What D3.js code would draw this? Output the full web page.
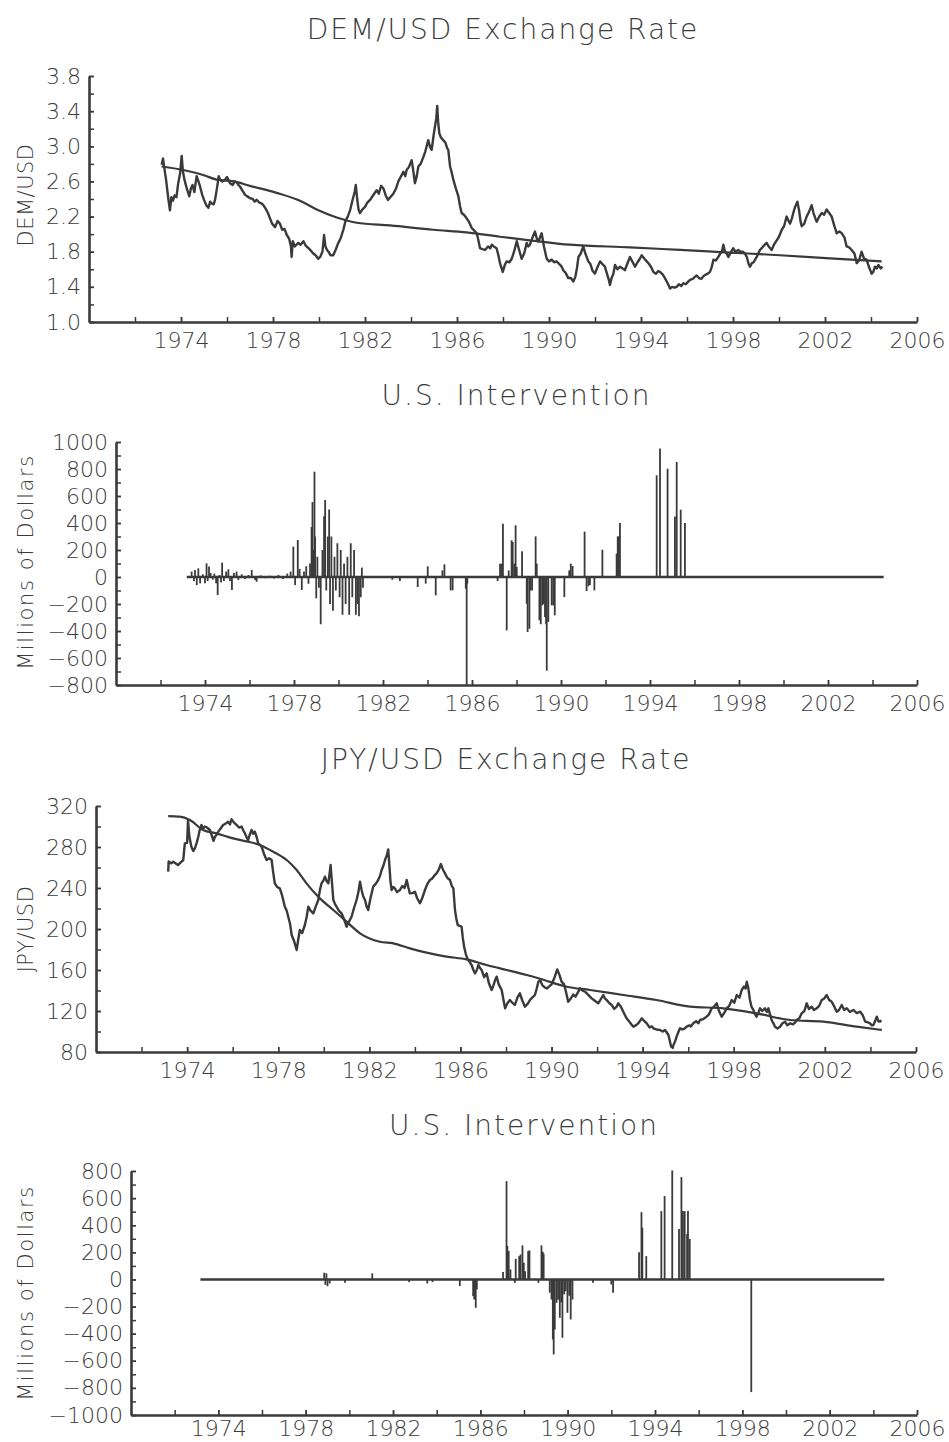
<!DOCTYPE html>
<html>
<head>
<meta charset="utf-8">
<script src="https://cdn.jsdelivr.net/npm/d3@7"></script>
<style>
  html, body { margin: 0; padding: 0; background: #fff; }
  svg text { font-family: "DejaVu Sans", "Liberation Sans", sans-serif; font-weight: 200; fill: #3c3c3c; }
</style>
</head>
<body>
<svg id="chart" width="949" height="1442"></svg>
<script>
// ---------------- DATA ----------------
const yearTicks = [1974, 1978, 1982, 1986, 1990, 1994, 1998, 2002, 2006];
const yearMinor = [1972, 1974, 1976, 1978, 1980, 1982, 1984, 1986, 1988, 1990, 1992, 1994, 1996, 1998, 2000, 2002, 2004, 2006];

const demTicks = [1.0, 1.4, 1.8, 2.2, 2.6, 3.0, 3.4, 3.8];
const demInterTicks = [-800, -600, -400, -200, 0, 200, 400, 600, 800, 1000];
const jpyTicks = [80, 120, 160, 200, 240, 280, 320];
const jpyInterTicks = [-1000, -800, -600, -400, -200, 0, 200, 400, 600, 800];

// DEM/USD exchange rate (decimal year, rate)
const demT = [1973.16,1973.22,1973.26,1973.35,1973.45,1973.52,1973.58,1973.65,1973.72,1973.8,1973.88,1973.96,1974.03,1974.08,1974.15,1974.25,1974.36,1974.43,1974.5,1974.58,1974.68,1974.76,1974.83,1974.92,1975.0,1975.1,1975.19,1975.27,1975.33,1975.42,1975.48,1975.58,1975.64,1975.7,1975.8,1975.91,1976.0,1976.13,1976.25,1976.33,1976.42,1976.5,1976.57,1976.66,1976.78,1976.88,1977.0,1977.12,1977.2,1977.29,1977.4,1977.5,1977.58,1977.68,1977.78,1977.87,1977.96,1978.09,1978.2,1978.3,1978.4,1978.5,1978.6,1978.7,1978.78,1978.81,1978.86,1978.95,1979.02,1979.1,1979.2,1979.32,1979.42,1979.54,1979.62,1979.75,1979.85,1979.97,1980.05,1980.15,1980.22,1980.28,1980.35,1980.41,1980.5,1980.62,1980.72,1980.84,1980.95,1981.06,1981.15,1981.25,1981.35,1981.45,1981.55,1981.6,1981.66,1981.72,1981.78,1981.88,1982.0,1982.1,1982.22,1982.35,1982.45,1982.51,1982.6,1982.7,1982.8,1982.9,1983.0,1983.1,1983.23,1983.35,1983.45,1983.55,1983.67,1983.75,1983.81,1983.9,1984.03,1984.1,1984.17,1984.25,1984.32,1984.42,1984.54,1984.62,1984.7,1984.75,1984.83,1984.9,1984.98,1985.04,1985.1,1985.14,1985.18,1985.23,1985.3,1985.4,1985.5,1985.57,1985.62,1985.7,1985.77,1985.84,1985.95,1986.06,1986.13,1986.2,1986.3,1986.42,1986.52,1986.64,1986.75,1986.86,1986.93,1987.0,1987.1,1987.22,1987.35,1987.45,1987.51,1987.6,1987.72,1987.8,1987.87,1987.94,1987.99,1988.08,1988.16,1988.28,1988.38,1988.48,1988.6,1988.68,1988.81,1988.92,1989.03,1989.1,1989.17,1989.28,1989.39,1989.47,1989.54,1989.62,1989.68,1989.78,1989.9,1990.0,1990.12,1990.22,1990.33,1990.45,1990.55,1990.62,1990.72,1990.84,1990.95,1991.06,1991.15,1991.22,1991.28,1991.38,1991.49,1991.58,1991.71,1991.8,1991.9,1992.0,1992.1,1992.22,1992.32,1992.43,1992.52,1992.6,1992.65,1992.72,1992.8,1992.87,1992.98,1993.09,1993.2,1993.3,1993.4,1993.52,1993.62,1993.74,1993.85,1993.95,1994.03,1994.15,1994.25,1994.35,1994.45,1994.54,1994.65,1994.75,1994.83,1994.95,1995.04,1995.14,1995.2,1995.26,1995.35,1995.45,1995.55,1995.65,1995.75,1995.84,1995.95,1996.05,1996.13,1996.25,1996.33,1996.42,1996.52,1996.62,1996.71,1996.82,1996.9,1997.0,1997.08,1997.15,1997.25,1997.36,1997.45,1997.52,1997.58,1997.65,1997.72,1997.8,1997.9,1998.01,1998.1,1998.23,1998.32,1998.42,1998.52,1998.6,1998.68,1998.74,1998.82,1998.9,1998.96,1999.05,1999.17,1999.28,1999.38,1999.46,1999.55,1999.62,1999.68,1999.78,1999.9,2000.0,2000.12,2000.22,2000.33,2000.42,2000.48,2000.56,2000.63,2000.7,2000.8,2000.88,2000.94,2000.99,2001.1,2001.2,2001.3,2001.42,2001.5,2001.58,2001.64,2001.75,2001.86,2001.96,2002.07,2002.18,2002.29,2002.4,2002.51,2002.62,2002.73,2002.85,2002.94,2003.05,2003.16,2003.28,2003.38,2003.48,2003.59,2003.7,2003.81,2003.92,2004.03,2004.1,2004.17,2004.25,2004.32,2004.42,2004.5];
const demV = [2.79,2.86,2.78,2.62,2.40,2.27,2.42,2.38,2.44,2.42,2.58,2.69,2.89,2.72,2.62,2.52,2.43,2.52,2.56,2.48,2.66,2.60,2.54,2.45,2.39,2.33,2.30,2.37,2.35,2.34,2.39,2.55,2.66,2.62,2.60,2.62,2.65,2.58,2.56,2.60,2.59,2.56,2.54,2.50,2.45,2.43,2.41,2.40,2.37,2.39,2.36,2.35,2.33,2.29,2.24,2.18,2.12,2.08,2.15,2.12,2.05,2.06,1.99,1.95,1.86,1.74,1.92,1.86,1.88,1.90,1.88,1.92,1.87,1.84,1.82,1.78,1.76,1.72,1.74,1.80,1.99,1.86,1.82,1.80,1.76,1.76,1.82,1.90,1.96,2.05,2.15,2.20,2.27,2.38,2.48,2.56,2.40,2.28,2.24,2.28,2.31,2.36,2.39,2.44,2.48,2.50,2.46,2.55,2.52,2.44,2.39,2.42,2.46,2.52,2.60,2.65,2.71,2.66,2.73,2.76,2.84,2.72,2.58,2.66,2.77,2.80,2.88,2.94,3.02,3.07,2.99,2.96,3.12,3.22,3.32,3.46,3.28,3.15,3.10,3.07,3.04,2.98,2.96,2.77,2.70,2.62,2.52,2.43,2.32,2.24,2.22,2.18,2.14,2.07,2.04,2.01,1.93,1.84,1.83,1.82,1.86,1.84,1.88,1.86,1.84,1.76,1.67,1.61,1.57,1.65,1.69,1.68,1.72,1.80,1.92,1.84,1.72,1.78,1.90,1.86,1.88,1.96,2.03,1.95,1.915,1.97,2.01,1.86,1.72,1.69,1.71,1.68,1.69,1.66,1.63,1.59,1.56,1.50,1.50,1.46,1.52,1.62,1.74,1.78,1.86,1.78,1.69,1.66,1.58,1.55,1.62,1.69,1.66,1.63,1.55,1.48,1.42,1.50,1.55,1.65,1.60,1.63,1.61,1.59,1.66,1.74,1.69,1.63,1.68,1.72,1.76,1.72,1.69,1.66,1.62,1.57,1.55,1.58,1.57,1.54,1.50,1.45,1.42,1.38,1.40,1.39,1.40,1.43,1.41,1.44,1.43,1.46,1.48,1.49,1.51,1.53,1.50,1.49,1.52,1.54,1.55,1.57,1.63,1.71,1.70,1.74,1.78,1.80,1.88,1.80,1.78,1.74,1.79,1.84,1.80,1.82,1.80,1.80,1.78,1.74,1.66,1.63,1.67,1.68,1.71,1.75,1.82,1.85,1.88,1.90,1.86,1.84,1.82,1.88,1.93,1.97,2.05,2.09,2.20,2.15,2.12,2.18,2.25,2.31,2.37,2.26,2.14,2.09,2.12,2.20,2.25,2.33,2.24,2.18,2.14,2.20,2.24,2.22,2.28,2.24,2.20,2.10,2.01,2.03,2.01,1.96,1.86,1.85,1.82,1.78,1.67,1.70,1.80,1.72,1.71,1.62,1.55,1.57,1.63,1.61,1.65,1.61,1.63];

// DEM/USD trend line
const demTrendT = [1973.16,1974.1,1975.0,1975.55,1976.3,1977.0,1978.16,1979.17,1979.9,1980.77,1981.64,1983.09,1984.97,1986.42,1987.87,1989.17,1990.91,1993.52,1995.7,1997.87,2000.04,2002.22,2004.46];
const demTrendV = [2.77,2.73,2.67,2.62,2.60,2.55,2.47,2.38,2.28,2.19,2.13,2.10,2.05,2.02,1.97,1.93,1.88,1.85,1.82,1.79,1.76,1.725,1.69];

// U.S. intervention, DEM (decimal year, millions of dollars)
const demIntT = [1973.4,1973.5,1973.55,1973.63,1973.7,1973.78,1973.9,1974.0,1974.07,1974.12,1974.18,1974.25,1974.35,1974.42,1974.5,1974.57,1974.65,1974.72,1974.77,1974.85,1974.95,1975.05,1975.12,1975.21,1975.3,1975.42,1975.5,1975.65,1975.8,1975.95,1976.1,1976.25,1976.32,1976.5,1976.7,1976.9,1977.1,1977.3,1977.5,1977.7,1977.85,1977.97,1978.05,1978.17,1978.25,1978.35,1978.45,1978.55,1978.65,1978.72,1978.79,1978.83,1978.88,1978.92,1978.95,1979.0,1979.05,1979.12,1979.2,1979.28,1979.35,1979.4,1979.45,1979.52,1979.58,1979.62,1979.68,1979.75,1979.82,1979.88,1979.95,1980.05,1980.1,1980.18,1980.25,1980.32,1980.4,1980.48,1980.55,1980.62,1980.7,1980.78,1980.85,1980.92,1981.0,1981.05,1981.1,1982.42,1982.76,1983.56,1983.92,1984.01,1984.37,1984.67,1984.76,1985.04,1985.13,1985.72,1985.76,1985.79,1987.15,1987.26,1987.33,1987.39,1987.56,1987.65,1987.78,1987.83,1987.9,1987.96,1988.01,1988.25,1988.46,1988.5,1988.58,1988.63,1988.7,1988.86,1988.91,1989.03,1989.09,1989.16,1989.22,1989.28,1989.33,1989.36,1989.43,1989.58,1989.65,1989.72,1990.15,1990.37,1990.44,1990.52,1991.06,1991.15,1991.23,1991.3,1991.5,1991.86,1992.5,1992.55,1992.6,1992.65,1994.3,1994.45,1994.79,1995.12,1995.2,1995.38,1995.57];
const demIntV = [40,-30,52,-60,64,-47,20,-47,101,-30,77,30,-20,25,-47,-133,15,-40,106,-30,40,57,-30,-96,30,40,-22,20,-15,15,52,-22,-35,12,-10,10,-12,15,-15,25,40,225,-60,274,60,-96,40,80,-50,100,370,555,200,780,300,-158,150,-80,-350,200,450,570,-100,300,500,-200,300,-250,150,-100,250,-150,200,-280,100,-200,150,-280,250,-150,200,-280,-200,-290,-150,70,-80,-20,-30,-74,-49,79,-136,49,94,-99,-99,-86,-800,-49,-30,99,99,395,-395,49,272,259,99,383,74,190,-198,-407,-383,-100,-100,301,99,-321,-350,-210,-200,-296,-350,-694,-333,-210,-210,-284,-148,49,99,82,336,-104,-69,-60,-99,202,173,301,301,400,753,951,802,449,852,499,400];

// JPY/USD exchange rate
const jpyT = [1973.17,1973.19,1973.3,1973.39,1973.5,1973.6,1973.72,1973.83,1973.9,1974.0,1974.04,1974.1,1974.19,1974.27,1974.34,1974.42,1974.49,1974.56,1974.63,1974.7,1974.78,1974.88,1975.0,1975.1,1975.16,1975.22,1975.3,1975.37,1975.47,1975.58,1975.7,1975.8,1975.88,1975.95,1976.05,1976.17,1976.28,1976.39,1976.47,1976.54,1976.62,1976.68,1976.75,1976.83,1976.9,1976.97,1977.05,1977.12,1977.2,1977.27,1977.38,1977.49,1977.6,1977.71,1977.78,1977.85,1977.95,1978.07,1978.18,1978.29,1978.37,1978.44,1978.52,1978.59,1978.7,1978.81,1978.88,1978.95,1979.05,1979.17,1979.25,1979.32,1979.42,1979.54,1979.65,1979.76,1979.83,1979.9,1980.0,1980.05,1980.12,1980.2,1980.3,1980.36,1980.42,1980.5,1980.56,1980.66,1980.78,1980.9,1981.0,1981.1,1981.22,1981.32,1981.44,1981.52,1981.59,1981.66,1981.73,1981.81,1981.88,1981.95,1982.05,1982.17,1982.28,1982.39,1982.47,1982.54,1982.62,1982.69,1982.77,1982.83,1982.88,1982.93,1982.98,1983.05,1983.12,1983.22,1983.34,1983.45,1983.55,1983.64,1983.72,1983.78,1983.9,1984.0,1984.1,1984.22,1984.32,1984.44,1984.55,1984.66,1984.75,1984.85,1984.95,1985.05,1985.14,1985.23,1985.32,1985.42,1985.54,1985.62,1985.69,1985.76,1985.82,1985.88,1985.96,1986.05,1986.1,1986.16,1986.23,1986.3,1986.4,1986.49,1986.57,1986.64,1986.72,1986.79,1986.86,1986.93,1987.04,1987.15,1987.25,1987.37,1987.45,1987.52,1987.59,1987.68,1987.75,1987.81,1987.88,1987.96,1988.05,1988.17,1988.28,1988.39,1988.5,1988.61,1988.72,1988.83,1988.95,1989.05,1989.15,1989.27,1989.35,1989.42,1989.5,1989.6,1989.7,1989.8,1989.9,1990.0,1990.12,1990.25,1990.35,1990.44,1990.55,1990.62,1990.73,1990.84,1990.95,1991.05,1991.15,1991.25,1991.35,1991.47,1991.6,1991.76,1991.9,1992.05,1992.15,1992.27,1992.35,1992.42,1992.52,1992.64,1992.75,1992.85,1992.93,1993.05,1993.15,1993.22,1993.3,1993.4,1993.5,1993.59,1993.7,1993.81,1993.96,1994.08,1994.18,1994.3,1994.4,1994.47,1994.6,1994.76,1994.88,1994.98,1995.06,1995.13,1995.2,1995.25,1995.32,1995.35,1995.42,1995.49,1995.56,1995.64,1995.75,1995.85,1995.93,1996.05,1996.12,1996.22,1996.35,1996.45,1996.52,1996.65,1996.81,1996.92,1997.03,1997.12,1997.25,1997.35,1997.47,1997.58,1997.69,1997.8,1997.91,1998.02,1998.13,1998.25,1998.35,1998.45,1998.52,1998.57,1998.64,1998.71,1998.78,1998.86,1998.93,1999.0,1999.08,1999.15,1999.25,1999.37,1999.45,1999.52,1999.6,1999.66,1999.74,1999.81,1999.92,2000.03,2000.14,2000.25,2000.35,2000.47,2000.6,2000.7,2000.76,2000.88,2000.98,2001.1,2001.2,2001.3,2001.42,2001.52,2001.64,2001.75,2001.86,2001.96,2002.08,2002.18,2002.3,2002.42,2002.52,2002.62,2002.74,2002.85,2002.96,2003.1,2003.25,2003.4,2003.55,2003.66,2003.77,2003.88,2003.98,2004.05,2004.13,2004.2,2004.28,2004.35,2004.42,2004.48];
const jpyV = [256,266,264,265.7,264,262.4,265,267.3,283.6,284,306,290,280,276,278.7,284,290,297,301.5,298,300,299,296.6,290,286,290,292,295,298,301.5,303,304.7,302,307,304,301.5,299,300,296,293.3,289,286.8,292,296.6,293,295,290,283.6,282,280.3,273,267.3,269,267.3,255,244.5,241,239.7,232,221.8,218,212,205,194.1,188,179.5,190,199,196,203.9,212,221.8,218,215.3,222,228.3,238,244.5,248,251,247,244.5,262.4,245,228.3,224,221.8,218,215.3,209,202.3,207,212,220,228.3,236,246.2,238,232,228.3,222,218.5,230,241.3,244,247.8,252,257.6,262,267.3,272,277.7,262,246,238,241,239.7,236,238,242,240,247.8,240,234.8,235,236.4,230,225.1,230,238,244,247.8,249,252,254.3,258,263.4,258,254.3,250,247.8,242,239.7,218.5,210,203.9,203,202.3,192,182.8,176,171.4,168,164.9,160,156.7,160,164.9,162,160,153,156.7,147,140.5,145,150,153.5,146,143,140.5,132,122.6,127,130.7,128,125.9,133,137.2,130,124.2,127,130.7,133,135.6,142,148.6,150,145,143,142,144,146,152,160.6,155,148.6,146,140,129,132,136,134,138,142.1,140,138.8,136,132.3,130,127.5,131,135.6,132,130.7,128,125.9,122,124,127.5,124,119.3,116,112.8,110,107,104.7,106,108,112.8,110,108,104,105,103.1,102,101.5,100,101.5,99,96.6,90,85.2,84,86.8,90,95,99,103.1,102,103,104.7,106,105,108,110,108,111.2,112,114.5,117,122.6,124,127.5,120,114.5,118,122.6,125,130.7,128,135.6,133,140.5,144,142,148.6,142.1,130.7,124,121,117,114.5,118,122.6,120,122.6,119,122.6,116,111.2,108,104.7,103,104.7,108,109.6,106,108,107,109,111.2,113,117.7,120,127.5,122,124.2,121,122.6,125,130.7,132,135.6,131,129,124,119.3,121,125.9,121,122.6,119,121,118,119.3,116,109.6,109,108,106,106.3,110,114.5,110,109.6,111];

// JPY/USD trend line
const jpyTrendT = [1973.17,1973.68,1974.12,1974.7,1975.29,1976.02,1976.68,1977.19,1977.78,1978.37,1978.81,1979.24,1979.83,1980.42,1981.0,1981.59,1982.46,1983.05,1983.78,1984.51,1985.39,1986.27,1987.15,1988.03,1988.91,1989.49,1990.66,1991.69,1993.15,1994.61,1996.08,1997.54,1999.0,2000.47,2001.93,2003.4,2004.5];
const jpyTrendV = [310.2,309.6,306.3,296.6,293.3,288.4,285.2,282,275.4,267.3,257.6,244.5,229.9,218.5,207.2,195.8,187.6,186,181.1,176.9,173,170.4,164.9,160,155.1,151.5,143.7,140.5,135.6,130.7,124.2,122.6,117.7,111.2,109.6,104.7,101.5];

// U.S. intervention, JPY
const jpyIntT = [1978.85,1978.9,1978.95,1979.0,1979.1,1979.8,1981.05,1982.74,1983.57,1983.81,1985.06,1985.67,1985.72,1985.79,1985.84,1987.04,1987.2,1987.24,1987.3,1987.38,1987.58,1987.62,1987.78,1987.84,1987.93,1987.99,1988.05,1988.19,1988.25,1988.66,1988.8,1988.86,1988.9,1989.18,1989.26,1989.32,1989.36,1989.41,1989.49,1989.56,1989.64,1989.71,1989.76,1989.84,1989.91,1989.99,1990.07,1990.14,1990.22,1991.16,1992.0,1992.08,1993.27,1993.38,1993.42,1993.6,1994.29,1994.44,1994.79,1995.1,1995.21,1995.28,1995.36,1995.47,1995.51,1995.59,1998.41];
const jpyIntV = [50,-40,45,-50,-30,-25,45,-20,-30,-20,-49,-123,-148,-209,-74,54,725,246,209,74,-25,152,172,184,251,123,60,209,214,-25,251,204,190,-98,-148,-443,-553,-369,-172,-150,-283,-170,-430,-110,-86,-246,-120,-295,-148,-25,-37,-98,201,496,381,172,504,615,804,373,755,504,504,336,504,299,-831];

// ---------------- DRAWING ----------------
const svg = d3.select("#chart");
const INK = "#3a3a3a";

const panels = [
  { title: "DEM/USD Exchange Rate", titleY: 39, ylabel: "DEM/USD", ylabelY: 195,
    left: 89, right: 917, top: 76, bottom: 322, domain: [1.0, 3.8], ticks: demTicks, minorStep: 0.2,
    fmt: d3.format(".1f"), kind: "line", t: demT, v: demV, tt: demTrendT, tv: demTrendV, xpad: 10 },
  { title: "U.S. Intervention", titleY: 405, ylabel: "Millions of Dollars", ylabelY: 562, ylabelSpacing: 1.6,
    left: 116, right: 917, top: 442, bottom: 685, domain: [-800, 1000], ticks: demInterTicks, minorStep: 100,
    fmt: d => d < 0 ? "\u2212" + Math.abs(d) : String(d), kind: "bars", t: demIntT, v: demIntV, xpad: 10 },
  { title: "JPY/USD Exchange Rate", titleY: 769, ylabel: "JPY/USD", ylabelY: 929,
    left: 96, right: 916, top: 806, bottom: 1052, domain: [80, 320], ticks: jpyTicks, minorStep: 20,
    fmt: d3.format("d"), kind: "line", t: jpyT, v: jpyV, tt: jpyTrendT, tv: jpyTrendV, xpad: 10 },
  { title: "U.S. Intervention", titleY: 1135, ylabel: "Millions of Dollars", ylabelY: 1293, ylabelSpacing: 1.6,
    left: 131, right: 917, top: 1171, bottom: 1415, domain: [-1000, 800], ticks: jpyInterTicks, minorStep: 100,
    fmt: d => d < 0 ? "\u2212" + Math.abs(d) : String(d), kind: "bars", t: jpyIntT, v: jpyIntV, xpad: 5 }
];

panels.forEach(p => {
  const x = d3.scaleLinear().domain([1970, 2006]).range([p.left, p.right]);
  const y = d3.scaleLinear().domain(p.domain).range([p.bottom, p.top]);
  const g = svg.append("g");

  // title
  g.append("text").attr("x", (p.left + p.right) / 2).attr("y", p.titleY)
    .attr("text-anchor", "middle").attr("font-size", 28).attr("letter-spacing", 2)
    .text(p.title);

  // y label
  g.append("text").attr("transform", `translate(33,${p.ylabelY}) rotate(-90)`)
    .attr("text-anchor", "middle").attr("font-size", 21)
    .attr("letter-spacing", p.ylabelSpacing || 0.5)
    .text(p.ylabel);

  // minor y ticks
  const minor = d3.range(p.domain[0], p.domain[1] + p.minorStep / 2, p.minorStep);
  g.append("g").attr("transform", `translate(${p.left},0)`)
    .call(d3.axisLeft(y).tickValues(minor).tickSize(-5).tickSizeOuter(0).tickFormat(""))
    .call(a => a.select(".domain").remove())
    .call(a => a.selectAll("line").attr("stroke", INK).attr("stroke-width", 1.5));

  // major y axis
  g.append("g").attr("transform", `translate(${p.left},0)`)
    .call(d3.axisLeft(y).tickValues(p.ticks).tickSize(-5).tickSizeOuter(0).tickPadding(8).tickFormat(p.fmt))
    .call(a => a.select(".domain").attr("stroke", INK).attr("stroke-width", 2.6))
    .call(a => a.selectAll("line").attr("stroke", INK).attr("stroke-width", 1.5))
    .call(a => a.selectAll("text").attr("font-size", 22).attr("font-family", null).style("fill", "#3c3c3c"));

  // x axis minor
  g.append("g").attr("transform", `translate(0,${p.bottom})`)
    .call(d3.axisBottom(x).tickValues(yearMinor).tickSize(-5).tickSizeOuter(0).tickFormat(""))
    .call(a => a.select(".domain").remove())
    .call(a => a.selectAll("line").attr("stroke", INK).attr("stroke-width", 1.5));

  // x axis major
  g.append("g").attr("transform", `translate(0,${p.bottom})`)
    .call(d3.axisBottom(x).tickValues(yearTicks).tickSize(-5).tickSizeOuter(0).tickPadding(p.xpad).tickFormat(d3.format("d")))
    .call(a => a.select(".domain").attr("stroke", INK).attr("stroke-width", 2.6))
    .call(a => a.selectAll("line").attr("stroke", INK).attr("stroke-width", 1.5))
    .call(a => a.selectAll("text").attr("font-size", 22).attr("font-family", null).style("fill", "#3c3c3c"));

  if (p.kind === "line") {
    const line = d3.line().x(d => x(d[0])).y(d => y(d[1]));
    const trend = d3.line().x(d => x(d[0])).y(d => y(d[1])).curve(d3.curveMonotoneX);
    g.append("path").datum(p.tt.map((t, i) => [t, p.tv[i]]))
      .attr("d", trend).attr("fill", "none").attr("stroke", INK).attr("stroke-width", 2.2);
    g.append("path").datum(p.t.map((t, i) => [t, p.v[i]]))
      .attr("d", line).attr("fill", "none").attr("stroke", INK).attr("stroke-width", 2.4)
      .attr("stroke-linejoin", "round");
  } else {
    const data = p.t.map((t, i) => [t, p.v[i]]);
    g.selectAll("line.bar").data(data).join("line").attr("class", "bar")
      .attr("x1", d => x(d[0])).attr("x2", d => x(d[0]))
      .attr("y1", y(0)).attr("y2", d => y(d[1]))
      .attr("stroke", INK).attr("stroke-width", 1.8);
    g.append("line").attr("x1", x(1973.18)).attr("x2", x(2004.5))
      .attr("y1", y(0)).attr("y2", y(0)).attr("stroke", INK).attr("stroke-width", 2.6);
  }
});
</script>
</body>
</html>
